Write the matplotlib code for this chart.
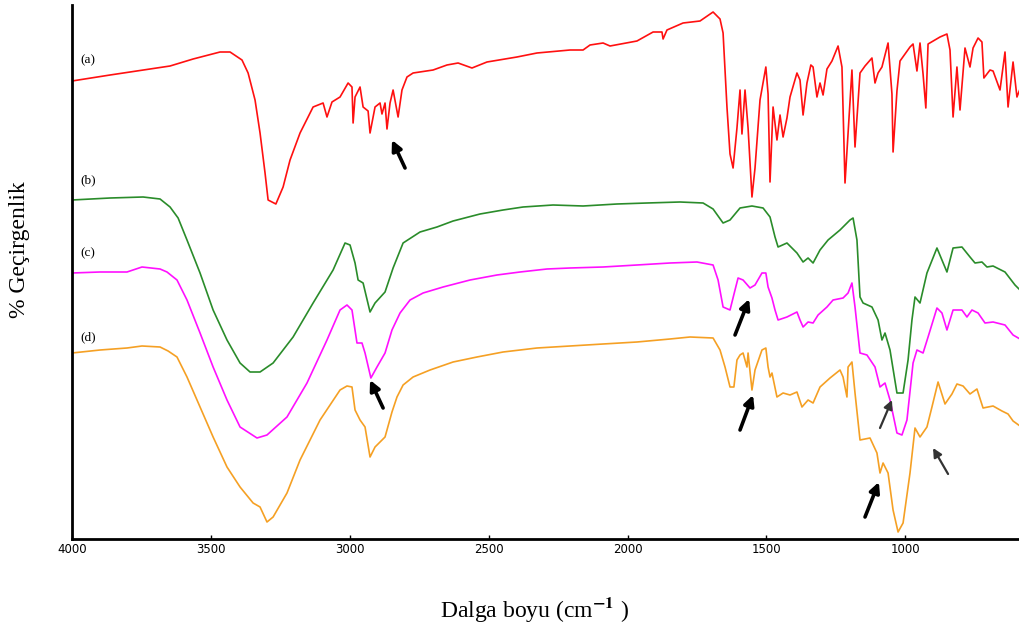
import matplotlib
matplotlib.use('Agg')
import matplotlib.pyplot as plt

# FTIR spectra, wavenumber (cm-1) and offset transmittance (a.u.)
wn_a = [4000, 3863, 3744, 3647, 3564, 3467, 3431, 3388, 3366, 3341, 3323, 3305, 3294, 3266, 3240,
        3215, 3179, 3132, 3096, 3082, 3064, 3035, 3006, 2992, 2988, 2981, 2963, 2952, 2934, 2927,
        2909, 2891, 2884, 2873, 2866, 2855, 2844, 2826, 2812, 2794, 2772, 2700, 2650, 2610, 2560,
        2506, 2398, 2326, 2207, 2160, 2135, 2088, 2063, 1966, 1908, 1876, 1872, 1858, 1800, 1739,
        1692, 1667, 1656, 1642, 1631, 1620, 1606, 1595, 1588, 1577, 1566, 1552, 1541, 1523, 1502,
        1494, 1487, 1476, 1462, 1451, 1440, 1426, 1415, 1390, 1379, 1368, 1354, 1340, 1332, 1318,
        1307, 1296, 1282, 1264, 1242, 1228, 1217, 1206, 1192, 1181, 1163, 1145, 1120, 1109, 1098,
        1084, 1062, 1048, 1044, 1030, 1019, 983, 972, 958, 947, 936, 926, 918, 875, 850,
        839, 828, 814, 803, 785, 767, 756, 738, 724, 717, 695, 684, 659, 641, 630,
        612, 598, 587]
t_a = [91.8, 93.0, 94.0, 94.8, 96.2, 97.6, 97.6, 96.0, 93.4, 88.0, 81.4, 73.4, 68.0, 67.2, 70.6,
       76.0, 81.4, 86.6, 87.4, 84.6, 87.6, 88.6, 91.4, 90.6, 83.4, 88.6, 90.6, 86.6, 85.8, 81.4,
       86.6, 87.4, 85.2, 87.4, 82.2, 87.4, 90.0, 84.6, 90.0, 92.6, 93.4, 94.0, 95.0, 95.4, 94.4,
       95.6, 96.6, 97.4, 98.0, 98.0, 99.0, 99.4, 98.8, 99.8, 101.6, 101.6, 100.2, 102.0, 103.4, 103.8,
       105.6, 104.2, 101.4, 86.6, 77.2, 74.4, 82.4, 90.0, 81.2, 90.0, 82.4, 68.6, 74.4, 88.0, 94.6,
       89.2, 71.6, 86.6, 80.0, 85.0, 80.6, 84.4, 88.6, 93.4, 92.0, 85.0, 91.4, 95.0, 94.6, 88.6,
       91.4, 89.0, 94.2, 95.8, 98.8, 94.6, 71.4, 81.2, 94.0, 78.6, 93.4, 94.8, 96.4, 91.4, 93.4,
       94.6, 99.4, 89.2, 77.6, 89.8, 95.8, 98.6, 99.2, 93.8, 99.4, 93.2, 86.4, 99.2, 100.6, 101.2,
       98.0, 84.6, 94.6, 86.0, 98.4, 94.6, 98.4, 100.4, 99.6, 92.4, 94.0, 93.8, 90.0, 97.6, 86.6,
       95.6, 88.6, 90.2]

wn_b = [4000, 3863, 3744, 3683, 3647, 3618, 3586, 3539, 3492, 3442, 3395, 3359, 3323, 3276, 3204,
        3132, 3060, 3017, 2999, 2981, 2970, 2952, 2927, 2909, 2873, 2844, 2808, 2747, 2686, 2628,
        2531, 2448, 2376, 2268, 2160, 2038, 1930, 1811, 1728, 1692, 1656, 1631, 1595, 1552, 1512,
        1487, 1469, 1458, 1426, 1390, 1368, 1350, 1332, 1307, 1278, 1235, 1199, 1188, 1174, 1163,
        1152, 1120, 1098, 1084, 1073, 1055, 1030, 1008, 990, 976, 965, 947, 922, 886, 868,
        850, 828, 796, 767, 749, 724, 706, 684, 641, 605, 587]
t_b = [68.0, 68.4, 68.6, 68.2, 66.6, 64.4, 60.0, 53.4, 46.0, 40.0, 35.4, 33.6, 33.6, 35.4, 40.6,
       47.4, 54.0, 59.4, 59.0, 55.4, 52.0, 51.4, 45.6, 47.4, 49.6, 54.4, 59.4, 61.6, 62.6, 63.8,
       65.2, 66.0, 66.6, 67.0, 66.8, 67.2, 67.4, 67.6, 67.4, 66.2, 63.4, 64.0, 66.4, 66.8, 66.4,
       64.6, 60.6, 58.6, 59.4, 57.4, 55.6, 56.4, 55.4, 58.0, 60.0, 62.0, 64.0, 64.4, 60.0, 48.6,
       47.4, 46.6, 44.0, 40.0, 41.4, 38.0, 29.4, 29.4, 36.0, 44.0, 48.6, 47.4, 53.4, 58.4, 56.0,
       53.6, 58.4, 58.6, 56.6, 55.4, 55.6, 54.6, 54.8, 53.6, 51.0, 50.0]

wn_c = [4000, 3899, 3802, 3748, 3683, 3658, 3622, 3586, 3539, 3492, 3442, 3395, 3334, 3298, 3226,
        3154, 3082, 3035, 3010, 2992, 2974, 2956, 2945, 2924, 2902, 2873, 2848, 2819, 2783, 2736,
        2664, 2567, 2470, 2387, 2290, 2207, 2088, 1966, 1847, 1750, 1692, 1674, 1656, 1631, 1613,
        1602, 1584, 1559, 1541, 1516, 1502, 1494, 1480, 1469, 1458, 1426, 1390, 1379, 1368, 1350,
        1332, 1314, 1282, 1260, 1224, 1206, 1192, 1181, 1163, 1138, 1109, 1091, 1073, 1055, 1030,
        1012, 994, 972, 958, 936, 918, 886, 868, 850, 828, 796, 778, 760, 738, 713,
        684, 641, 612, 587]
t_c = [53.4, 53.6, 53.6, 54.6, 54.2, 53.6, 52.0, 48.0, 41.4, 34.6, 28.0, 22.6, 20.4, 21.0, 24.6,
       31.4, 40.0, 46.0, 47.0, 46.0, 39.4, 39.4, 37.4, 32.4, 34.6, 37.4, 42.0, 45.4, 48.0, 49.4,
       50.6, 52.0, 53.0, 53.6, 54.2, 54.4, 54.6, 55.0, 55.4, 55.6, 55.0, 52.0, 46.6, 46.0, 50.0,
       52.4, 52.0, 50.4, 51.0, 53.4, 53.4, 50.6, 48.4, 46.0, 44.0, 44.6, 45.6, 44.0, 42.6, 43.6,
       43.4, 45.0, 46.6, 48.0, 48.4, 49.4, 51.4, 46.6, 37.4, 37.0, 34.6, 30.6, 31.4, 28.0, 21.4,
       21.0, 24.0, 35.4, 38.0, 37.4, 40.6, 46.4, 45.4, 42.0, 46.0, 46.0, 44.6, 46.0, 45.4, 43.4,
       43.6, 43.0, 41.0, 40.2]

wn_d = [4000, 3899, 3802, 3748, 3683, 3654, 3622, 3586, 3539, 3492, 3442, 3395, 3348, 3323, 3298,
        3276, 3226, 3179, 3107, 3035, 3010, 2992, 2981, 2963, 2945, 2927, 2909, 2873, 2848, 2830,
        2808, 2772, 2711, 2628, 2542, 2448, 2326, 2207, 2088, 1966, 1847, 1775, 1692, 1667, 1649,
        1631, 1617, 1606, 1595, 1584, 1570, 1566, 1552, 1541, 1516, 1502, 1494, 1487, 1480, 1462,
        1440, 1415, 1390, 1372, 1350, 1332, 1307, 1271, 1235, 1224, 1210, 1206, 1192, 1181, 1163,
        1127, 1102, 1091, 1080, 1062, 1044, 1026, 1008, 983, 965, 947, 922, 904, 882, 857,
        832, 814, 792, 767, 742, 720, 684, 652, 630, 612, 587]
t_d = [37.4, 38.0, 38.4, 38.8, 38.6, 37.8, 36.6, 32.6, 26.6, 20.6, 14.6, 10.6, 7.4, 6.6, 3.6,
       4.6, 9.4, 16.0, 24.0, 30.0, 30.8, 30.6, 26.0, 24.0, 22.6, 16.6, 18.6, 20.6, 25.6, 28.6,
       31.0, 32.6, 34.0, 35.6, 36.6, 37.6, 38.4, 38.8, 39.2, 39.6, 40.2, 40.6, 40.4, 38.0, 34.6,
       30.6, 30.6, 36.0, 37.0, 37.4, 34.6, 37.4, 30.0, 34.0, 38.0, 38.4, 34.6, 32.6, 33.4, 28.6,
       29.4, 29.0, 29.6, 26.6, 28.0, 27.4, 30.6, 32.4, 34.0, 32.6, 28.6, 34.6, 35.6, 29.4, 20.0,
       20.4, 17.4, 13.4, 15.4, 13.4, 6.0, 1.6, 3.4, 13.4, 22.4, 20.6, 22.6, 26.6, 31.6, 27.2,
       29.2, 31.2, 30.8, 29.2, 30.2, 26.4, 26.8, 25.8, 25.2, 23.8, 22.8]

curve_labels = ['(a)', '(b)', '(c)', '(d)']
label_y = [96.0, 72.0, 57.4, 40.6]

# arrows: (head wn, head T, tail wn, tail T)
arrows = [(2848, 80.0, 2801, 74.4),
          (2927, 32.0, 2880, 26.4),
          (1562, 48.2, 1613, 41.0),
          (1548, 29.0, 1595, 22.0),
          (1048, 28.0, 1091, 22.4),
          (1095, 11.6, 1145, 4.6),
          (900, 18.4, 846, 13.2)]
thin_arrows = [4, 6]

xticks = [4000, 3500, 3000, 2500, 2000, 1500, 1000]

plt.rcParams['mathtext.fontset'] = 'stix'

fig = plt.figure(figsize=(10.2, 6.34), dpi=100)
ax = fig.add_axes([72 / 1020, 1 - 539 / 634, 1 - 72 / 1020, (539 - 5) / 634])

ax.plot(wn_a, t_a, color='#ff1010', lw=1.2)
ax.plot(wn_b, t_b, color='#2a8c2a', lw=1.2)
ax.plot(wn_c, t_c, color='#ff10ff', lw=1.2)
ax.plot(wn_d, t_d, color='#f5a024', lw=1.2)

for lab, y in zip(curve_labels, label_y):
    ax.text(3971, y, lab, family='Liberation Serif', fontsize=9.5, va='center', ha='left')

for i, (hx, hy, tx, ty) in enumerate(arrows):
    thin = i in thin_arrows
    ax.annotate('', xy=(hx, hy), xytext=(tx, ty),
                arrowprops=dict(arrowstyle='-|>', color='#333333' if thin else 'black',
                                lw=1.6 if thin else 2.6, mutation_scale=13 if thin else 15,
                                shrinkA=0, shrinkB=0))

ax.set_xlim(4000, 587)
ax.set_ylim(0.2, 107)
ax.set_xticks(xticks)
ax.set_xticklabels([str(v) for v in xticks], fontsize=8.5)
ax.set_yticks([])
ax.tick_params(axis='x', direction='in', length=3, width=1, pad=3)
for s in ['top', 'right']:
    ax.spines[s].set_visible(False)
for s in ['left', 'bottom']:
    ax.spines[s].set_linewidth(2)

fig.text(20 / 1020, 1 - 250 / 634, '% Geçirgenlik', family='Liberation Serif', fontsize=17,
         rotation=90, ha='center', va='center')
fig.text(535 / 1020, 1 - 610 / 634, 'Dalga boyu (cm$^{\\mathbf{-1}}$ )', family='Liberation Serif',
         fontsize=17, ha='center', va='center')

fig.savefig('out.png', dpi=100)
